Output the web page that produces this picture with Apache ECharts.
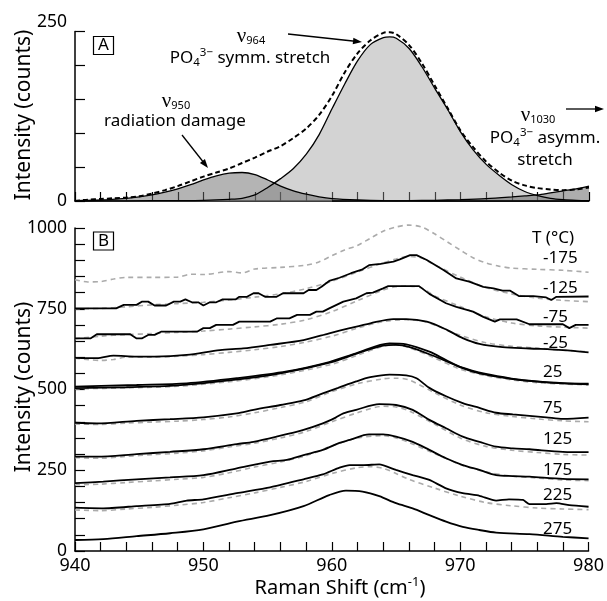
<!DOCTYPE html>
<html><head><meta charset="utf-8">
<script src="https://cdn.jsdelivr.net/npm/echarts@6/dist/echarts.min.js"></script>
<style>html,body{margin:0;padding:0;background:#fff}#c{width:607px;height:601px}</style>
</head><body><div id="c"></div>
<script>
// ---------------- DATA ----------------
// Panel A: fitted components and measured spectrum [Raman shift, counts]
const fitV964 = [[940,0],[944,0.3],[948,0.6],[950,1],[952,2.5],[953,4],[954,9],[955,20],[956,33],[957,48],[958,69],[959,98],[960,136],[961,173],[962,207],[963,231],[964,241],[964.5,242],[965,240],[966,225],[967,198],[968,166],[969,135],[970,102],[971,75],[972,54],[973,38],[974,24],[975,14],[976,8],[977,4],[978,2],[979,1],[980,0.5]];
const fitV950 = [[940,0.5],[942,1.5],[944,4],[945,6],[946,9],[947,13],[948,18],[949,24],[950,31],[951,37],[952,41],[953,42],[954,39],[955,31],[956,22],[957,15],[958,10],[959,6],[960,3.5],[962,1.5],[964,0.5],[968,0],[980,0]];
const fitV1030 = [[960,0],[964,0.2],[966,0.5],[968,1],[970,2],[972,3.5],[974,6],[975,7.5],[976,9],[977,12],[978,15],[979,18],[980,22]];
const measuredA = [[940,0],[941,2],[942,3],[943,4],[944,5],[945,7],[946,11],[947,16],[948,22],[949,29],[950,36],[951,42],[952,48],[953,56],[954,64],[955,73],[956,81],[957,93],[958,107],[959,127],[960,155],[961,190],[962,218],[963,237],[964,248],[964.5,249],[965,246],[966,230],[967,203],[968,170],[969,137],[970,104],[971,79],[972,58],[973,42],[974,30],[975,23],[976,19],[977,17],[978,16],[979,17],[980,20]];

// Panel B: temperature series (offset spectra)
const tempLabels = ['-175','-125','-75','-25','25','75','125','175','225','275'];
const dashedM175 = [[940,840],[941,833],[942,834],[943,842],[944,847],[946,847],[948,848],[949,857],[950,856],[952,865],[953,861],[954,873],[956,878],[958,885],[959,895],[960,914],[961,932],[962,946],[963,968],[964,990],[965,1003],[966,1009],[967,1003],[968,982],[969,957],[970,932],[971,908],[972,892],[973,882],[974,876],[976,872],[978,869],[980,863]];
const solidM125 = [[940,751],[943.2,751],[943.8,762],[944.8,762],[945.2,772],[945.7,772],[946.2,760],[947.1,760],[947.7,772],[948.2,772],[948.6,779],[949.1,770],[949.6,770],[950,760],[950.5,770],[951,770],[951.5,779],[952.5,779],[952.8,787],[953.4,787],[953.9,798],[954.3,798],[954.8,787],[955.7,787],[956.2,798],[957.8,798],[958.2,808],[958.8,808],[959.2,818],[959.8,836],[960.6,846],[961.5,860],[962.4,872],[962.9,885],[963.8,889],[964.8,896],[965.3,903],[966.1,916],[966.6,916],[967.4,901],[968.7,870],[969.7,844],[970.7,834],[971.8,818],[972.6,813],[973.3,806],[973.9,806],[974.6,789],[975.7,789],[976.7,785],[977.1,777],[977.5,787],[980,788]];
const dashedM125 = [[940,750],[942,751],[944,756],[946,762],[948,766],[950,770],[952,777],[954,786],[956,796],[958,812],[960,835],[962,864],[964,892],[965,904],[966,912],[967,907],[968,886],[970,848],[972,816],[974,796],[976,783],[978,776],[980,772]];
const solidM75 = [[940,658],[941.2,658],[941.7,671],[944.3,671],[944.8,658],[945.2,658],[945.7,669],[946.2,669],[946.7,679],[949.5,679],[950,690],[950.5,690],[951,700],[952.3,700],[952.8,710],[955.2,710],[955.7,720],[956.7,720],[957.3,731],[958.3,731],[958.8,741],[959.3,741],[959.8,751],[960.9,772],[961.9,782],[962.7,798],[963.2,800],[964,813],[964.4,820],[966.8,820],[967.6,796],[968.9,767],[969.7,756],[971,741],[971.8,725],[972.7,710],[973.1,717],[974.4,717],[975.4,702],[978,702],[978.5,690],[979,700],[980,700]];
const dashedM75 = [[940,657],[942,665],[944,670],[946,673],[948,677],[950,681],[952,687],[954,694],[956,702],[958,716],[960,741],[962,775],[964,808],[965,818],[966,820],[967,814],[968,790],[970,757],[972,725],[974,706],[976,697],[978,693],[980,690]];
const solidM25 = [[940,598],[941.7,597],[943,605],[944.8,602],[946.2,602],[948.7,607],[951.3,622],[953.1,627],[955.2,638],[957.8,653],[959.8,674],[961.4,690],[963,705],[964.8,718],[965.8,718],[967.4,710],[969,684],[970.2,659],[971.5,641],[973.3,631],[975.4,627],[978,622],[980,615]];
const dashedM25 = [[940,597],[942,590],[943,593],[944,600],[946,600],[948,603],[950,608],[952,615],[954,623],[956,633],[958,647],[960,665],[962,690],[964,710],[966,716],[967,712],[968,700],[970,668],[972,645],[974,634],[976,628],[978,622],[980,617]];
const solid25 = [[940,509],[944.8,514],[948.7,519],[952.6,535],[956.5,556],[959.8,585],[961.9,612],[964.5,643],[965.8,640],[967.6,617],[968.9,591],[970.2,566],[971.5,550],[974.1,532],[976.7,522],[980,516]];
const solid25b = [[940,504],[944,507],[948,513],[952,528],[956,550],[960,585],[962,612],[964,636],[965,638],[966,632],[968,603],[970,570],[972,548],[974,534],[976,525],[978,520],[980,518]];
const dashed25 = [[940,502],[944,505],[948,510],[952,524],[956,545],[960,578],[962,606],[964,634],[965,638],[966,630],[968,598],[970,563],[972,543],[974,530],[976,521],[978,517],[980,514]];
const solid75 = [[940,397],[941.7,395],[944.8,403],[947.4,408],[950,414],[952.6,426],[953.9,437],[956,452],[957.8,466],[959.3,488],[960.5,505],[961.9,525],[963,538],[964.5,546],[965.8,544],[966.6,535],[967.6,505],[968.9,479],[970.2,458],[971.5,443],[972.8,428],[974.1,423],[976.7,414],[978,409],[980,413]];
const dashed75 = [[940,393],[942,392],[944,396],[946,399],[948,402],[950,407],[952,415],[954,428],[956,444],[958,462],[960,493],[962,518],[964,533],[965,535],[966,530],[968,490],[970,452],[972,428],[974,417],[976,409],[978,403],[980,400]];
const solid125 = [[940,292],[941.7,292],[944.8,300],[947.4,307],[950,315],[952.6,331],[953.9,338],[955.7,354],[957.8,375],[959.3,395],[960.3,413],[960.9,426],[961.9,437],[963.7,455],[965,452],[966.3,437],[967.6,406],[968.9,380],[970.2,354],[971.5,338],[972.8,323],[974.1,318],[975.4,315],[978,307],[980,306]];
const dashed125 = [[940,289],[942,287],[944,293],[946,298],[948,303],[950,310],[952,322],[954,334],[956,350],[958,370],[960,400],[962,428],[964,448],[965,446],[966,434],[968,393],[970,350],[972,324],[974,312],[976,305],[978,299],[980,297]];
const solid175 = [[940,210],[942.2,215],[944.8,222],[947.4,228],[950,235],[952.6,256],[955.2,277],[956.5,282],[957.8,297],[959.3,313],[960.6,335],[961.4,344],[962.9,361],[964,361],[965,354],[966.3,338],[967.6,313],[968.9,287],[970.2,266],[971.5,251],[972.8,235],[974.1,232],[975.4,230],[978,223],[980,222]];
const dashed175 = [[940,205],[942,207],[944,212],[946,217],[948,222],[950,228],[952,242],[954,260],[956,276],[958,295],[960,325],[962,350],[964,357],[965,350],[966,336],[968,302],[970,268],[972,245],[974,232],[976,226],[978,220],[980,218]];
const solid225 = [[940,134],[942.2,132],[944.8,139],[947.4,146],[948.7,156],[950,160],[952.6,179],[955.2,197],[957.8,222],[959.3,237],[960.6,258],[961.4,266],[962.5,266],[963.7,268],[965,251],[966.3,235],[967.6,220],[968.9,194],[970.2,179],[971.5,171],[972.8,156],[973.8,160],[974.9,158],[975.4,145],[976.7,145],[977.5,148],[978.5,142],[980,137]];
const dashed225 = [[940,127],[942,125],[944,130],[946,135],[948,142],[950,150],[952,165],[954,180],[956,197],[958,215],[960,240],[962,258],[963,261],[964,256],[965,240],[966,222],[968,195],[970,170],[972,150],[974,140],[976,133],[978,130],[980,128]];
const solid275 = [[940,34],[942.2,37],[944.8,46],[947.4,55],[950,67],[952.6,91],[955.2,111],[957.8,139],[959.8,173],[961.1,187],[962.4,184],[963.7,170],[965,148],[966.3,132],[967.6,111],[968.9,91],[970.2,75],[971.5,65],[972.8,57],[975.4,52],[978,44],[980,39]];

const xTicksMajor = [940, 950, 960, 970, 980];
const yTicksA = [0, 250];
const yTicksB = [0, 250, 500, 750, 1000];

// ---------------- LAYOUT / STYLE ----------------
const F = 'Noto Sans';
const SERIF = 'Liberation Serif';
const labelY = [258, 288, 317, 343, 372, 408, 439, 470, 495, 529];

function xAx(gi, showLabel) {
  return {
    type: 'value', gridIndex: gi, min: 940, max: 980, interval: 2,
    axisLine: { show: true, onZero: false, lineStyle: { color: '#000', width: 1.5 } },
    axisTick: { show: true, inside: true, length: 9, lineStyle: { color: '#000', width: 1.2 } },
    axisLabel: { show: showLabel, color: '#000', fontSize: 18, fontFamily: F, margin: 6, hideOverlap: false,
      formatter: v => xTicksMajor.includes(v) ? String(v) : '' },
    splitLine: { show: false }
  };
}
function yAx(gi, max, ticks, rich) {
  return {
    type: 'value', gridIndex: gi, min: 0, max: max, interval: 50,
    axisLine: { show: true, onZero: false, lineStyle: { color: '#000', width: 1.5 } },
    axisTick: { show: true, inside: true, length: 10, lineStyle: { color: '#000', width: 1.2 } },
    axisLabel: { color: '#000', fontSize: 17.5, fontFamily: F, margin: 8, hideOverlap: false,
      formatter: v => ticks.includes(v) ? (rich && v === max ? '{hi|' + v + '}' : String(v)) : '',
      rich: { hi: { fontSize: 17.5, fontFamily: F, color: '#000', padding: [0, 0, 18, 0] } } },
    splitLine: { show: false }
  };
}
function ln(data, xi, color, width, dashed, smooth, extra) {
  return Object.assign({
    type: 'line', xAxisIndex: xi, yAxisIndex: xi, data: data, symbol: 'none', smooth: smooth,
    clip: false, silent: true, animation: false,
    lineStyle: { color: color, width: width, type: dashed ? [5, 4] : 'solid' }
  }, extra || {});
}

const series = [
  ln(fitV964, 0, '#000', 1.3, false, 0.3, { areaStyle: { color: 'rgba(150,150,150,0.42)', opacity: 1 } }),
  ln(fitV950, 0, '#000', 1.3, false, 0.3, { areaStyle: { color: 'rgba(105,105,105,0.5)', opacity: 1 } }),
  ln(fitV1030, 0, '#000', 1.3, false, 0.3, { areaStyle: { color: 'rgba(105,105,105,0.55)', opacity: 1 } }),
  { type: 'line', xAxisIndex: 0, yAxisIndex: 0, data: measuredA, symbol: 'none', smooth: 0.3, clip: false, animation: false,
    lineStyle: { color: '#000', width: 2, type: [5, 3] } }
];
const dashedB = [dashedM175, dashedM125, dashedM75, dashedM25, dashed25, dashed75, dashed125, dashed175, dashed225];
dashedB.forEach(d => series.push(ln(d, 1, '#ababab', 1.6, true, 0.3)));
const solidB = [[solidM125, false], [solidM75, false], [solidM25, 0.3], [solid25, 0.3], [solid25b, 0.3], [solid75, 0.3], [solid125, 0.3], [solid175, 0.3], [solid225, 0.2], [solid275, 0.3]];
solidB.forEach(([d, s]) => series.push(ln(d, 1, '#000', 1.8, false, s)));

function arrow(x1, y1, x2, y2) {
  const dx = x2 - x1, dy = y2 - y1, L = Math.hypot(dx, dy), ux = dx / L, uy = dy / L;
  const len = 9, hw = 3.2, bx = x2 - ux * len, by = y2 - uy * len;
  return [
    { type: 'line', shape: { x1: x1, y1: y1, x2: bx + ux * 2, y2: by + uy * 2 }, style: { stroke: '#000', lineWidth: 1.3 }, silent: true },
    { type: 'polygon', shape: { points: [[x2, y2], [bx - uy * hw, by + ux * hw], [bx + uy * hw, by - ux * hw]] }, style: { fill: '#000' }, silent: true }
  ];
}
function txt(x, y, text, opts) {
  return { type: 'text', x: x, y: y, silent: true, rotation: (opts && opts.rotation) || 0,
    style: Object.assign({ text: text, fill: '#000', font: '17px "' + F + '"', align: 'center', verticalAlign: 'middle' }, opts && opts.style) };
}
const richPO = {
  b: { fontSize: 17, fontFamily: F, lineHeight: 22, fill: '#000' },
  sub: { fontSize: 11.5, fontFamily: F, lineHeight: 11, verticalAlign: 'bottom', fill: '#000' },
  sup: { fontSize: 11.5, fontFamily: F, lineHeight: 11, verticalAlign: 'top', fill: '#000' }
};
const richNu = {
  nu: { fontSize: 21, fontFamily: SERIF, lineHeight: 20, fill: '#000' },
  sub: { fontSize: 11, fontFamily: F, lineHeight: 10, verticalAlign: 'bottom', fill: '#000' }
};
function nuLabel(x, y, num) {
  return { type: 'text', x: x, y: y, silent: true, style: { text: '{nu|ν}{sub|' + num + '}', rich: richNu, align: 'center', verticalAlign: 'middle' } };
}
function poLabel(x, y, rest) {
  return { type: 'text', x: x, y: y, silent: true, style: { text: '{b|PO}{sub|4}{sup|3−}{b|' + rest + '}', rich: richPO, align: 'center', verticalAlign: 'middle' } };
}

const graphic = [
  // panel letters
  { type: 'rect', shape: { x: 93.5, y: 36.5, width: 20, height: 18 }, style: { fill: 'none', stroke: '#000', lineWidth: 1.2 }, silent: true },
  txt(103.5, 45.5, 'A'),
  { type: 'rect', shape: { x: 93.5, y: 232, width: 20, height: 18 }, style: { fill: 'none', stroke: '#000', lineWidth: 1.2 }, silent: true },
  txt(103.5, 241, 'B'),
  // axis titles
  txt(24, 115, 'Intensity (counts)', { rotation: Math.PI / 2, style: { font: '21px "' + F + '"' } }),
  txt(24, 387, 'Intensity (counts)', { rotation: Math.PI / 2, style: { font: '21px "' + F + '"' } }),
  { type: 'text', x: 340, y: 588, silent: true, style: { text: '{b|Raman Shift (cm}{sup|-1}{b|)}', align: 'center', verticalAlign: 'middle',
    rich: { b: { fontSize: 20, fontFamily: F, lineHeight: 24, fill: '#000' }, sup: { fontSize: 13, fontFamily: F, lineHeight: 14, verticalAlign: 'top', fill: '#000' } } } },
  // panel A annotations
  nuLabel(251, 36, '964'),
  poLabel(250, 58, ' symm. stretch'),
  ...arrow(288, 34, 362, 42),
  nuLabel(176, 101, '950'),
  txt(175, 121, 'radiation damage'),
  ...arrow(182, 135, 208, 168),
  nuLabel(538, 115, '1030'),
  ...arrow(566, 109, 604, 109),
  poLabel(545, 138, ' asymm.'),
  txt(545, 160, 'stretch'),
  // panel B temperature labels
  txt(532, 238, 'T (°C)', { style: { align: 'left' } })
];
tempLabels.forEach((t, i) => graphic.push(txt(543, labelY[i], t, { style: { align: 'left' } })));

const chart = echarts.init(document.getElementById('c'), null, { renderer: 'canvas' });
chart.setOption({
  animation: false,
  backgroundColor: '#fff',
  grid: [
    { left: 75, top: 31.5, width: 514, height: 169.5 },
    { left: 75, top: 228, width: 514, height: 323 }
  ],
  xAxis: [xAx(0, false), xAx(1, true)],
  yAxis: [yAx(0, 250, yTicksA, true), yAx(1, 1000, yTicksB, false)],
  series: series,
  graphic: graphic
});
</script></body></html>
